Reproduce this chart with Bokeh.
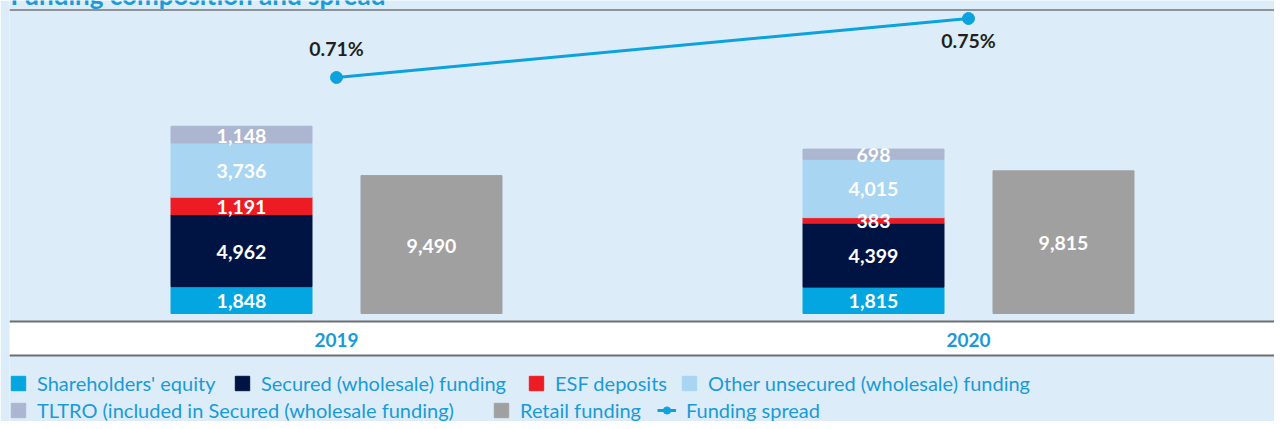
from bokeh.plotting import figure
from bokeh.models import (ColumnDataSource, Range1d, FixedTicker, Span, BoxAnnotation,
                          Legend, LegendItem, Label)
from bokeh.transform import dodge
from bokeh.core.properties import value
from bokeh.embed import file_html
from bokeh.resources import INLINE

# ---------------- data ----------------
years = ["2019", "2020"]
shareholders_equity = [1848, 1815]
secured_wholesale = [4962, 4399]
esf_deposits = [1191, 383]
other_unsecured = [3736, 4015]
tltro = [1148, 698]
retail_funding = [9490, 9815]
funding_spread = [0.71, 0.75]

stack_fields = ["equity", "secured", "esf", "other", "tltro"]
stack_names = ["Shareholders' equity", "Secured (wholesale) funding", "ESF deposits",
               "Other unsecured (wholesale) funding",
               "TLTRO (included in Secured (wholesale funding)"]
stack_colors = ["#03a6e1", "#001443", "#ed1c24", "#a8d5f2", "#adb6d1"]
retail_color = "#a0a0a0"
line_color = "#0ba2de"
bg = "#dcedf9"
blue_txt = "#1a9ad6"
FONT = "Lato"

# ---------------- layout helpers (canvas pixels) ----------------
W, H = 1274, 421
FRAME_LEFT = 9
ZERO_PX = 313        # canvas px of value 0
UPP = 68.8           # value units per pixel
def ydata(px):
    return (ZERO_PX - px) * UPP

X0_PX, X_UNIT = 336.0, 632.0
def xdata(px):
    return (px - X0_PX) / X_UNIT

OFF = 0.1503
BW = 0.2231

xi = list(range(len(years)))
src = ColumnDataSource(dict(
    xi=xi, year=years,
    equity=shareholders_equity, secured=secured_wholesale, esf=esf_deposits,
    other=other_unsecured, tltro=tltro, retail=retail_funding,
    retail_mid=[v / 2 for v in retail_funding],
    retail_txt=[f"{v:,}" for v in retail_funding],
    spread=funding_spread,
    spread_txt=[f"{v:.2f}%" for v in funding_spread],
    spread_dy=[-29, 22],
))

lab = dict(xi=[], mid=[], txt=[])
series = [shareholders_equity, secured_wholesale, esf_deposits, other_unsecured, tltro]
for j in range(len(years)):
    base = 0
    for s in series:
        lab["xi"].append(xi[j])
        lab["mid"].append(base + s[j] / 2)
        lab["txt"].append(f"{s[j]:,}")
        base += s[j]
lab_src = ColumnDataSource(lab)

p = figure(width=W, height=H, output_backend="svg", toolbar_location=None,
           x_range=Range1d(xdata(FRAME_LEFT), xdata(W)),
           y_range=Range1d(ydata(H), ydata(0)),
           y_axis_location=None, min_border=0, min_border_left=FRAME_LEFT,
           background_fill_color=bg, border_fill_color=bg, outline_line_color=None)
p.extra_y_ranges = {"spread": Range1d(0.4768, 0.7622)}
p.grid.visible = False

# band behind the category axis
p.add_layout(BoxAnnotation(bottom=ydata(354.5), top=ydata(321), fill_color="white",
                           fill_alpha=1, line_color=None, level="underlay"))
p.add_layout(Span(location=ydata(355), dimension="width", line_color="#6d6e71", line_width=2))
p.add_layout(Span(location=ydata(9.5), dimension="width", line_color="#3a3a3a", line_width=1))

rs = p.vbar_stack(stack_fields, x=dodge("xi", -OFF, range=p.x_range), width=BW,
                  color=stack_colors, source=src)
rr = p.vbar(x=dodge("xi", OFF, range=p.x_range), top="retail", width=BW,
            color=retail_color, source=src)

p.text(x=dodge("xi", -OFF, range=p.x_range), y="mid", text="txt", source=lab_src,
       text_color="white", text_font=value(FONT), text_font_style="bold",
       text_font_size="19.5px", text_align="center", text_baseline="middle", y_offset=1)
p.text(x=dodge("xi", OFF, range=p.x_range), y="retail_mid", text="retail_txt", source=src,
       text_color="white", text_font=value(FONT), text_font_style="bold",
       text_font_size="19.5px", text_align="center", text_baseline="middle", y_offset=1)

rl = p.line("xi", "spread", source=src, y_range_name="spread", line_color=line_color, line_width=3)
rc = p.scatter("xi", "spread", source=src, y_range_name="spread", size=12,
               fill_color=line_color, line_color=line_color)
p.text(x="xi", y="spread", text="spread_txt", source=src, y_range_name="spread",
       y_offset="spread_dy", text_color="#231f20", text_font=value(FONT),
       text_font_style="bold", text_font_size="19.5px", text_align="center",
       text_baseline="middle")

ax = p.xaxis[0]
ax.fixed_location = ydata(320.5)
ax.ticker = FixedTicker(ticks=xi)
ax.major_label_overrides = {i: y for i, y in enumerate(years)}
ax.axis_line_color = "#6d6e71"
ax.axis_line_width = 2
ax.major_tick_line_color = None
ax.minor_tick_line_color = None
ax.major_label_standoff = 6
ax.major_label_text_font = FONT
ax.major_label_text_font_style = "bold"
ax.major_label_text_font_size = "19px"
ax.major_label_text_color = blue_txt

# chart title (cut by the top edge, as in the reference)
p.add_layout(Label(x=1, y=H + 6, x_units="screen", y_units="screen",
                   text="Funding composition and spread", text_font=FONT,
                   text_baseline="alphabetic",
                   text_font_style="bold", text_font_size="26px", text_color=blue_txt))

ROW_H = 24
def add_legend(item, x_px, y_center, glyph_w=18):
    lg = Legend(items=[item], orientation="horizontal",
                location=(x_px - FRAME_LEFT, (H - y_center) - ROW_H / 2),
                label_text_font=FONT, label_text_font_size="20px",
                label_text_color=blue_txt, glyph_width=glyph_w, glyph_height=18,
                label_standoff=10, spacing=0, padding=0, margin=0,
                label_height=ROW_H, border_line_color=None, background_fill_alpha=0)
    p.add_layout(lg)

ROW1, ROW2 = 383, 410
row1_x = [9, 233, 527, 680]
for k in range(4):
    add_legend(LegendItem(label=stack_names[k], renderers=[rs[k]]), row1_x[k], ROW1)
add_legend(LegendItem(label=stack_names[4], renderers=[rs[4]]), 9, ROW2)
add_legend(LegendItem(label="Retail funding", renderers=[rr]), 492, ROW2)
add_legend(LegendItem(label="Funding spread", renderers=[rl, rc]), 657, ROW2, glyph_w=19)

open("out.html", "w").write(file_html(p, INLINE))
